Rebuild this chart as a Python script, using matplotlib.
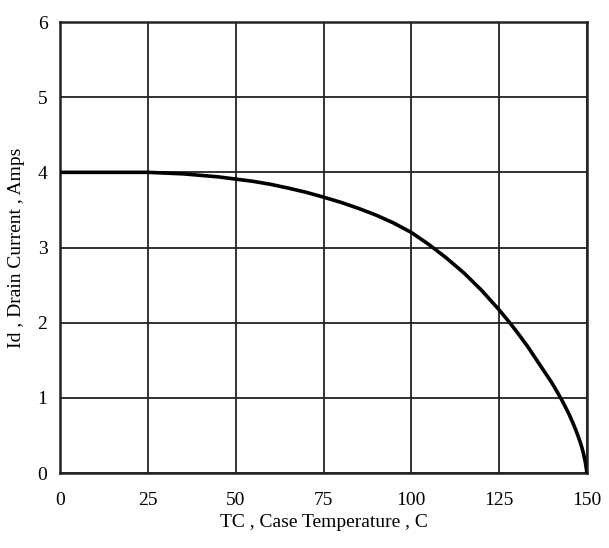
import matplotlib
matplotlib.use("Agg")
import matplotlib.pyplot as plt

temps = [0, 10, 20, 25, 30, 35, 40, 45, 50, 55, 60, 65, 70, 75, 80, 85, 90, 95, 100, 105, 110, 115,
         120, 125, 128, 130, 133, 135, 138, 140, 142, 143, 144, 145, 146, 147, 148, 148.5, 149, 149.5, 150]
current = [4.0, 4.0, 4.0, 4.0, 3.99, 3.98, 3.96, 3.94, 3.91, 3.88, 3.84, 3.79, 3.735, 3.67, 3.6, 3.52, 3.43, 3.325, 3.2, 3.04, 2.86, 2.66,
           2.43, 2.17, 2.0, 1.88, 1.69, 1.55, 1.34, 1.2, 1.04, 0.955, 0.865, 0.77, 0.665, 0.55, 0.42, 0.345, 0.26, 0.15, 0.0]
xticks = [0, 25, 50, 75, 100, 125, 150]
yticks = [0, 1, 2, 3, 4, 5, 6]

plt.rcParams['font.family'] = ['Liberation Serif', 'DejaVu Serif']

fig = plt.figure(figsize=(6.09, 5.48), dpi=100)
ax = fig.add_axes([60/609, 1 - 473/548, (587-60)/609, (473-22)/548])
ax.plot(temps, current, color='black', lw=2.6, zorder=3, solid_joinstyle='round')
ax.set_xlim(0, 150)
ax.set_ylim(0, 6)
ax.set_xticks(xticks)
ax.set_yticks(yticks)
ax.grid(True, color='#222222', lw=1.3)
ax.tick_params(length=0, labelsize=14)
ax.tick_params(axis='x', pad=14)
ax.tick_params(axis='y', pad=9)
for s in ax.spines.values():
    s.set_linewidth(1.8)
    s.set_color('#222222')
ax.set_xlabel('TC , Case Temperature , C', fontsize=14, labelpad=3)
ax.set_ylabel('Id , Drain Current , Amps', fontsize=14, labelpad=9)
fig.savefig('out.png', dpi=100)
